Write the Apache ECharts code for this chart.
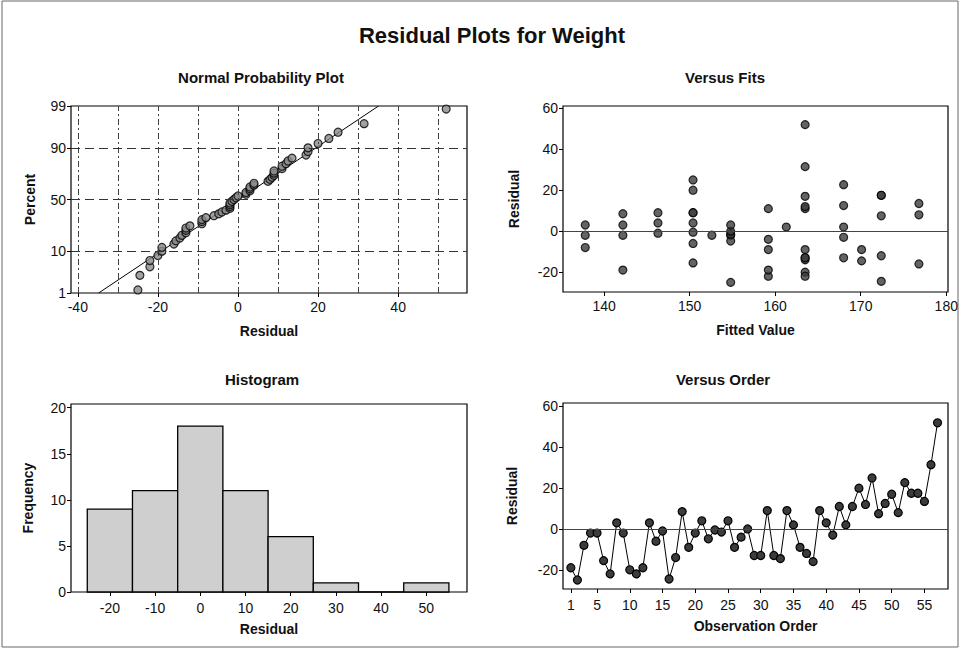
<!DOCTYPE html>
<html>
<head>
<meta charset="utf-8">
<script src="https://cdn.jsdelivr.net/npm/echarts@6/dist/echarts.min.js"></script>
<style>html,body{margin:0;padding:0;background:#fff;}#c{width:961px;height:649px;}</style>
</head>
<body>
<div id="c"></div>
<script>
// ---------------- DATA ----------------
const residuals = [-19, -25, -8, -2, -2, -15.5, -22, 3, -2, -20, -22, -19, 3, -6, -1, -24.5, -14, 8.5, -9, -2,
  4, -4.8, -0.5, -1.5, 4, -9, -4, 0, -13, -13, 9, -13, -14.5, 9, 2, -9, -12, -16, 9, 3,
  -3, 11, 2, 11, 20, 12, 25, 7.5, 12.5, 17, 8, 22.7, 17.5, 17.5, 13.5, 31.5, 52];
const fittedValues = [142.2, 154.8, 137.8, 142.2, 152.6, 150.4, 159.2, 137.8, 137.8, 163.5, 163.5, 159.2, 142.2, 150.4, 146.3, 172.4, 163.5, 142.2, 159.2, 154.8,
  146.3, 154.8, 150.4, 154.8, 150.4, 163.5, 159.2, 154.8, 163.5, 168, 146.3, 163.5, 170.1, 150.4, 161.3, 170.1, 172.4, 176.8, 150.4, 154.8,
  168, 159.2, 168, 163.5, 150.4, 163.5, 150.4, 172.4, 168, 163.5, 176.8, 168, 172.4, 172.4, 176.8, 163.5, 163.5];
const histCenters = [-20, -10, 0, 10, 20, 30, 40, 50];
const histCounts = [9, 11, 18, 11, 6, 1, 0, 1];
const probPercentTicks = [1, 10, 50, 90, 99];
const probXLabels = [-40, -20, 0, 20, 40];
const probXGrid = [-40, -30, -20, -10, 0, 10, 20, 30, 40, 50];
const fitsXTicks = [140, 150, 160, 170, 180];
const residTicks = [-20, 0, 20, 40, 60];
const histYTicks = [0, 5, 10, 15, 20];
const orderTicks = [1, 5, 10, 15, 20, 25, 30, 35, 40, 45, 50, 55];

// ------------- helpers -------------
function normInv(p) {
  const a=[-3.969683028665376e+01,2.209460984245205e+02,-2.759285104469687e+02,1.383577518672690e+02,-3.066479806614716e+01,2.506628277459239e+00];
  const b=[-5.447609879822406e+01,1.615858368580409e+02,-1.556989798598866e+02,6.680131188771972e+01,-1.328068155288572e+01];
  const c=[-7.784894002430293e-03,-3.223964580411365e-01,-2.400758277161838e+00,-2.549732539343734e+00,4.374664141464968e+00,2.938163982698783e+00];
  const d=[7.784695709041462e-03,3.224671290700398e-01,2.445134137142996e+00,3.754408661907416e+00];
  const pl=0.02425, ph=1-pl; let q, r;
  if (p < pl) { q=Math.sqrt(-2*Math.log(p)); return (((((c[0]*q+c[1])*q+c[2])*q+c[3])*q+c[4])*q+c[5])/((((d[0]*q+d[1])*q+d[2])*q+d[3])*q+1); }
  if (p <= ph) { q=p-0.5; r=q*q; return (((((a[0]*r+a[1])*r+a[2])*r+a[3])*r+a[4])*r+a[5])*q/(((((b[0]*r+b[1])*r+b[2])*r+b[3])*r+b[4])*r+1); }
  q=Math.sqrt(-2*Math.log(1-p)); return -(((((c[0]*q+c[1])*q+c[2])*q+c[3])*q+c[4])*q+c[5])/((((d[0]*q+d[1])*q+d[2])*q+d[3])*q+1);
}
const n = residuals.length;
const sorted = residuals.slice().sort((x, y) => x - y);
const probPoints = sorted.map((v, i) => [v, normInv((i + 1 - 0.3) / (n + 0.4))]);
const mean = residuals.reduce((s, v) => s + v, 0) / n;
const sd = Math.sqrt(residuals.reduce((s, v) => s + (v - mean) * (v - mean), 0) / (n - 1));
const zLo = normInv(0.01), zHi = normInv(0.99);
const probLine = [[mean + zLo * sd, zLo], [mean + zHi * sd, zHi]];
const probZTicks = probPercentTicks.map(p => normInv(p / 100));
function pctLabel(v) {
  let best = 0;
  probZTicks.forEach((z, i) => { if (Math.abs(z - v) < Math.abs(probZTicks[best] - v)) best = i; });
  return String(probPercentTicks[best]);
}
const fitsPoints = fittedValues.map((f, i) => [f, residuals[i]]);
const orderPoints = residuals.map((r, i) => [i + 1, r]);
const histData = histCenters.map((c, i) => [c - 5, c + 5, histCounts[i]]);

// ------------- styles -------------
const FONT = '"Liberation Sans", Arial, sans-serif';
const tickLabel = { color: '#111', fontSize: 14, fontFamily: FONT };
const nameStyle = { color: '#111', fontSize: 14, fontWeight: 'bold', fontFamily: FONT };
const subTitle = { fontSize: 15, fontWeight: 'bold', color: '#111', fontFamily: FONT };
const darkPoint = { color: '#3c3c3c', borderColor: '#000', borderWidth: 1.2 };

function xAx(grid, min, max, ticks, name, gap, margin, fmt) {
  return {
    type: 'value', gridIndex: grid, min: min, max: max,
    name: name, nameLocation: 'middle', nameGap: gap, nameTextStyle: nameStyle,
    axisLine: { show: false, onZero: false },
    axisTick: { show: true, length: 4, customValues: ticks, lineStyle: { color: '#000' } },
    axisLabel: Object.assign({ customValues: ticks, margin: margin, formatter: fmt || (v => String(v)) }, tickLabel),
    splitLine: { show: false }
  };
}
function yAx(grid, min, max, ticks, name, gap, fmt) {
  return {
    type: 'value', gridIndex: grid, min: min, max: max,
    name: name, nameLocation: 'middle', nameGap: gap, nameTextStyle: nameStyle,
    axisLine: { show: false, onZero: false },
    axisTick: { show: true, length: 4, customValues: ticks, lineStyle: { color: '#000' } },
    axisLabel: Object.assign({ customValues: ticks, margin: 5, formatter: fmt || (v => String(v)) }, tickLabel),
    splitLine: { show: false }
  };
}
const gridBase = { show: true, borderColor: '#000', borderWidth: 1.2, backgroundColor: '#fff', containLabel: false };

const chart = echarts.init(document.getElementById('c'), null, { renderer: 'svg' });
chart.setOption({
  backgroundColor: '#fff',
  animation: false,
  title: [
    { text: 'Residual Plots for Weight', left: 487, top: 19, textAlign: 'center', textStyle: { fontSize: 22, fontWeight: 'bold', color: '#111', fontFamily: FONT } },
    { text: 'Normal Probability Plot', left: 256, top: 65, textAlign: 'center', textStyle: subTitle },
    { text: 'Versus Fits', left: 720, top: 65, textAlign: 'center', textStyle: subTitle },
    { text: 'Histogram', left: 257, top: 367, textAlign: 'center', textStyle: subTitle },
    { text: 'Versus Order', left: 718, top: 367, textAlign: 'center', textStyle: subTitle }
  ],
  grid: [
    Object.assign({ left: 71, top: 106, width: 396, height: 187 }, gridBase),
    Object.assign({ left: 563, top: 106, width: 385, height: 186 }, gridBase),
    Object.assign({ left: 71, top: 404, width: 396, height: 188 }, gridBase),
    Object.assign({ left: 563, top: 403, width: 385, height: 186 }, gridBase)
  ],
  xAxis: [
    xAx(0, -41.7, 57.2, probXLabels, 'Residual', 31, 7),
    xAx(1, 135.2, 180.2, fitsXTicks, 'Fitted Value', 31, 7),
    xAx(2, -28.6, 59, histCenters, 'Residual', 30, 9),
    xAx(3, -0.2, 58.6, orderTicks, 'Observation Order', 30, 9)
  ],
  yAxis: [
    yAx(0, zLo, zHi, probZTicks, 'Percent', 34, pctLabel),
    yAx(1, -29.7, 61.1, residTicks, 'Residual', 42),
    yAx(2, 0, 20.4, histYTicks, 'Frequency', 36),
    yAx(3, -29.4, 61.7, residTicks, 'Residual', 44)
  ],
  series: [
    // normal probability plot reference grid
    {
      type: 'line', xAxisIndex: 0, yAxisIndex: 0, data: [], silent: true,
      markLine: {
        symbol: 'none', silent: true, label: { show: false },
        data: probXGrid.map(v => ({ xAxis: v, lineStyle: { color: '#444', width: 1, type: [6, 3, 2, 3] } }))
          .concat(probZTicks.slice(1, 4).map(z => ({ yAxis: z, lineStyle: { color: '#333', width: 1, type: [9, 5] } })))
      }
    },
    { type: 'line', xAxisIndex: 0, yAxisIndex: 0, data: probLine, showSymbol: false, lineStyle: { color: '#000', width: 1 }, z: 3 },
    { type: 'scatter', xAxisIndex: 0, yAxisIndex: 0, data: probPoints, symbolSize: 8, itemStyle: { color: '#8a8a8a', borderColor: '#000', borderWidth: 1.2 }, z: 4 },
    // versus fits
    {
      type: 'scatter', xAxisIndex: 1, yAxisIndex: 1, data: fitsPoints, symbolSize: 8, itemStyle: darkPoint, z: 4,
      markLine: { symbol: 'none', silent: true, label: { show: false }, data: [{ yAxis: 0 }], lineStyle: { color: '#444', width: 1.2, type: 'solid' } }
    },
    // histogram
    {
      type: 'custom', xAxisIndex: 2, yAxisIndex: 2, data: histData,
      encode: { x: [0, 1], y: 2 },
      renderItem: function (params, api) {
        const p0 = api.coord([api.value(0), api.value(2)]);
        const p1 = api.coord([api.value(1), 0]);
        return {
          type: 'rect',
          shape: { x: p0[0], y: p0[1], width: p1[0] - p0[0], height: p1[1] - p0[1] },
          style: { fill: '#cfcfcf', stroke: '#000', lineWidth: 1.3 }
        };
      }
    },
    // versus order
    {
      type: 'line', xAxisIndex: 3, yAxisIndex: 3, data: orderPoints, symbol: 'circle', symbolSize: 8,
      lineStyle: { color: '#000', width: 1 }, itemStyle: darkPoint, z: 4,
      markLine: { symbol: 'none', silent: true, label: { show: false }, data: [{ yAxis: 0 }], lineStyle: { color: '#444', width: 1.2, type: 'solid' } }
    }
  ],
  graphic: [
    { type: 'rect', shape: { x: 2, y: 1, width: 956, height: 646 }, style: { fill: 'none', stroke: '#666', lineWidth: 1 }, silent: true }
  ]
});
</script>
</body>
</html>
